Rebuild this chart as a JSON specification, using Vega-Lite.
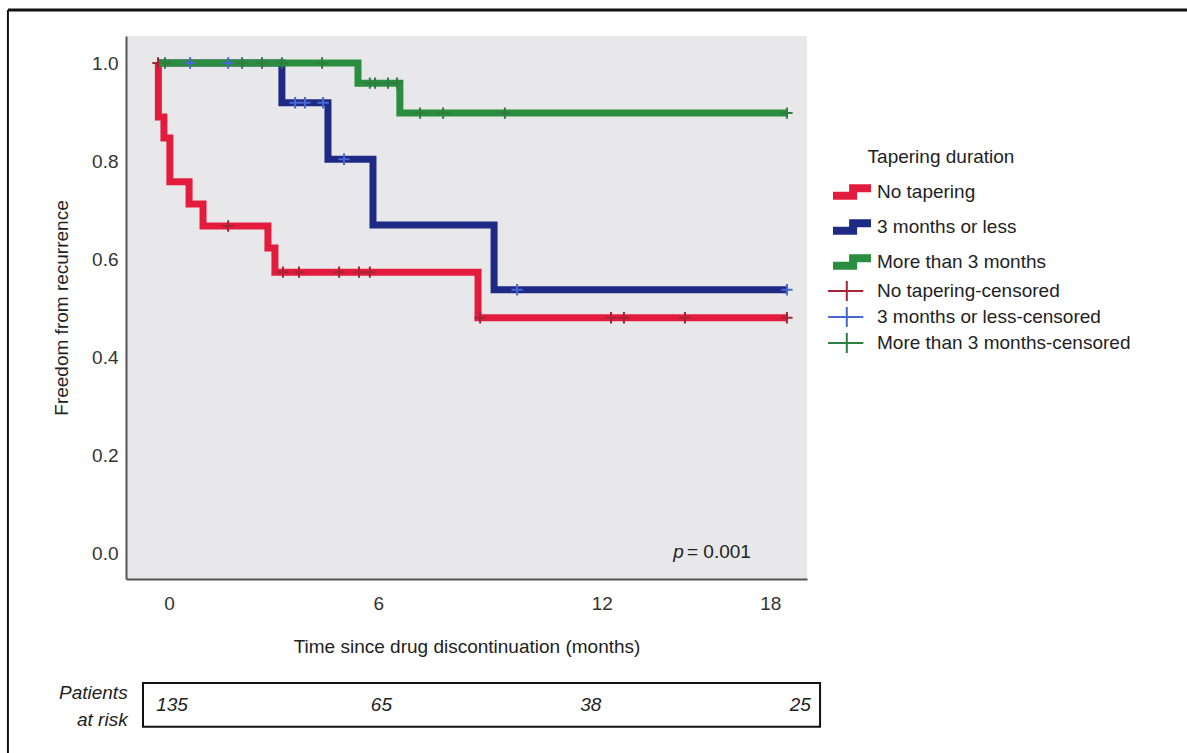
{
  "$schema": "https://vega.github.io/schema/vega-lite/v6.json",
  "width": 681,
  "height": 543,
  "autosize": {"type": "none"},
  "padding": {"left": 126, "top": 36, "right": 380, "bottom": 174},
  "background": "white",
  "config": {
    "font": "Liberation Sans",
    "view": {"fill": "#e8e8ea", "stroke": null},
    "axis": {
      "domainColor": "#555555",
      "domainWidth": 2,
      "ticks": false,
      "grid": false,
      "labelFont": "Liberation Sans",
      "labelFontSize": 19,
      "labelColor": "#333333",
      "titleFont": "Liberation Sans",
      "titleFontSize": 19,
      "titleFontWeight": "normal",
      "titleColor": "#222222"
    },
    "legend": {
      "labelFont": "Liberation Sans",
      "titleFont": "Liberation Sans",
      "labelFontSize": 19,
      "labelColor": "#222222",
      "labelLimit": 0,
      "titleFontSize": 19,
      "titleFontWeight": "normal",
      "titleColor": "#222222",
      "padding": 0,
      "rowPadding": 0,
      "labelOffset": 18,
      "symbolSize": 484,
      "symbolOpacity": 1
    }
  },
  "resolve": {"scale": {"color": "independent"}},
  "datasets": {
    "curves": [
      {"group": "3 months or less", "t": 0, "s": 1.0},
      {"group": "3 months or less", "t": 3.55, "s": 0.919},
      {"group": "3 months or less", "t": 4.87, "s": 0.804},
      {"group": "3 months or less", "t": 6.16, "s": 0.670},
      {"group": "3 months or less", "t": 9.63, "s": 0.538},
      {"group": "3 months or less", "t": 18.05, "s": 0.538},
      {"group": "No tapering", "t": 0, "s": 1.0},
      {"group": "No tapering", "t": 0.01, "s": 0.89},
      {"group": "No tapering", "t": 0.17, "s": 0.847},
      {"group": "No tapering", "t": 0.34, "s": 0.758},
      {"group": "No tapering", "t": 0.89, "s": 0.713},
      {"group": "No tapering", "t": 1.29, "s": 0.668},
      {"group": "No tapering", "t": 3.15, "s": 0.623},
      {"group": "No tapering", "t": 3.35, "s": 0.574},
      {"group": "No tapering", "t": 9.17, "s": 0.481},
      {"group": "No tapering", "t": 18.05, "s": 0.481},
      {"group": "More than 3 months", "t": 0, "s": 1.0},
      {"group": "More than 3 months", "t": 5.73, "s": 0.959},
      {"group": "More than 3 months", "t": 6.93, "s": 0.898},
      {"group": "More than 3 months", "t": 18.05, "s": 0.898}
    ],
    "censored": [
      {"cgroup": "No tapering-censored", "t": 0, "s": 1.0},
      {"cgroup": "No tapering-censored", "t": 2.01, "s": 0.668},
      {"cgroup": "No tapering-censored", "t": 3.58, "s": 0.574},
      {"cgroup": "No tapering-censored", "t": 4.04, "s": 0.574},
      {"cgroup": "No tapering-censored", "t": 5.19, "s": 0.574},
      {"cgroup": "No tapering-censored", "t": 5.76, "s": 0.574},
      {"cgroup": "No tapering-censored", "t": 6.07, "s": 0.574},
      {"cgroup": "No tapering-censored", "t": 9.23, "s": 0.481},
      {"cgroup": "No tapering-censored", "t": 12.98, "s": 0.481},
      {"cgroup": "No tapering-censored", "t": 13.35, "s": 0.481},
      {"cgroup": "No tapering-censored", "t": 15.10, "s": 0.481},
      {"cgroup": "No tapering-censored", "t": 18.02, "s": 0.481},
      {"cgroup": "3 months or less-censored", "t": 0.92, "s": 1.0},
      {"cgroup": "3 months or less-censored", "t": 2.01, "s": 1.0},
      {"cgroup": "3 months or less-censored", "t": 3.93, "s": 0.919},
      {"cgroup": "3 months or less-censored", "t": 4.21, "s": 0.919},
      {"cgroup": "3 months or less-censored", "t": 4.73, "s": 0.919},
      {"cgroup": "3 months or less-censored", "t": 5.33, "s": 0.804},
      {"cgroup": "3 months or less-censored", "t": 10.29, "s": 0.538},
      {"cgroup": "3 months or less-censored", "t": 18.02, "s": 0.538},
      {"cgroup": "More than 3 months-censored", "t": 0.2, "s": 1.0},
      {"cgroup": "More than 3 months-censored", "t": 2.41, "s": 1.0},
      {"cgroup": "More than 3 months-censored", "t": 2.98, "s": 1.0},
      {"cgroup": "More than 3 months-censored", "t": 3.55, "s": 1.0},
      {"cgroup": "More than 3 months-censored", "t": 4.70, "s": 1.0},
      {"cgroup": "More than 3 months-censored", "t": 6.07, "s": 0.959},
      {"cgroup": "More than 3 months-censored", "t": 6.22, "s": 0.959},
      {"cgroup": "More than 3 months-censored", "t": 6.59, "s": 0.959},
      {"cgroup": "More than 3 months-censored", "t": 6.85, "s": 0.959},
      {"cgroup": "More than 3 months-censored", "t": 7.51, "s": 0.898},
      {"cgroup": "More than 3 months-censored", "t": 8.17, "s": 0.898},
      {"cgroup": "More than 3 months-censored", "t": 9.94, "s": 0.898},
      {"cgroup": "More than 3 months-censored", "t": 18.02, "s": 0.898}
    ],
    "risk": [
      {"t": 0, "n": "135"},
      {"t": 6, "n": "65"},
      {"t": 12, "n": "38"},
      {"t": 18, "n": "25"}
    ]
  },
  "layer": [
    {
      "data": {"name": "curves"},
      "mark": {"type": "line", "interpolate": "step-after", "strokeWidth": 7, "strokeJoin": "miter"},
      "encoding": {
        "x": {
          "field": "t", "type": "quantitative",
          "title": "Time since drug discontinuation (months)",
          "scale": {"domain": [-0.917, 18.596], "nice": false, "zero": false},
          "axis": {
            "values": [0, 6, 12, 18],
            "labelPadding": 15,
            "titlePadding": 24,
            "labelOffset": {"condition": [{"test": "datum.value == 12", "value": 25}, {"test": "datum.value == 18", "value": -16}], "value": 11}
          }
        },
        "y": {
          "field": "s", "type": "quantitative",
          "title": "Freedom from recurrence",
          "scale": {"domain": [-0.051, 1.055], "nice": false, "zero": false},
          "axis": {"values": [0, 0.2, 0.4, 0.6, 0.8, 1.0], "format": ".1f", "labelPadding": 8, "titlePadding": 20}
        },
        "color": {
          "field": "group", "type": "nominal",
          "scale": {
            "domain": ["No tapering", "3 months or less", "More than 3 months"],
            "range": ["#e31c3d", "#1f2a85", "#2a8d3f"]
          },
          "legend": {
            "title": "Tapering duration",
            "titleAnchor": "middle",
            "orient": "none",
            "legendX": 711,
            "legendY": 112,
            "titlePadding": 10,
            "rowPadding": -18,
            "labelOffset": 10,
            "symbolType": "M-1.73,0.35L0.1,0.35L0.1,-0.35L1.73,-0.35",
            "symbolStrokeWidth": 8,
            "symbolFillColor": "transparent"
          }
        }
      }
    },
    {
      "data": {"name": "censored"},
      "mark": {"type": "point", "shape": "M-1,0L1,0M0,-1L0,1", "size": 130, "filled": false, "strokeWidth": 2, "opacity": 1},
      "encoding": {
        "x": {"field": "t", "type": "quantitative"},
        "y": {"field": "s", "type": "quantitative"},
        "color": {
          "field": "cgroup", "type": "nominal",
          "scale": {
            "domain": ["No tapering-censored", "3 months or less-censored", "More than 3 months-censored"],
            "range": ["#a52536", "#4668d0", "#2f7d40"]
          },
          "legend": {
            "title": null,
            "orient": "none",
            "legendX": 711,
            "legendY": 243,
            "rowPadding": -12,
            "labelOffset": 16,
            "symbolType": "M-1.9,0L1.3,0M-0.2,-0.9L-0.2,0.9",
            "symbolStrokeWidth": 2
          }
        }
      }
    },
    {
      "data": {"values": [{}]},
      "mark": {"type": "text", "text": "p", "fontStyle": "italic", "fontSize": 19, "align": "right", "baseline": "middle", "color": "#222222"},
      "encoding": {
        "x": {"datum": 15.07, "type": "quantitative"},
        "y": {"datum": 0.004, "type": "quantitative"}
      }
    },
    {
      "data": {"values": [{}]},
      "mark": {"type": "text", "text": "= 0.001", "fontSize": 19, "align": "left", "baseline": "middle", "color": "#222222", "dx": 3},
      "encoding": {
        "x": {"datum": 15.07, "type": "quantitative"},
        "y": {"datum": 0.004, "type": "quantitative"}
      }
    },
    {
      "data": {"values": [{}]},
      "mark": {"type": "rule", "color": "#111111", "strokeWidth": 3, "clip": false},
      "encoding": {
        "x": {"datum": -4.3, "type": "quantitative"},
        "x2": {"datum": 29.6},
        "y": {"datum": 1.108, "type": "quantitative"}
      }
    },
    {
      "data": {"values": [{}]},
      "mark": {"type": "rule", "color": "#111111", "strokeWidth": 2, "clip": false},
      "encoding": {
        "x": {"datum": -4.3, "type": "quantitative"},
        "y": {"datum": 1.108, "type": "quantitative"},
        "y2": {"datum": -0.41}
      }
    },
    {
      "data": {"values": [{}]},
      "mark": {"type": "rect", "fill": "transparent", "stroke": "#111111", "strokeWidth": 2, "clip": false},
      "encoding": {
        "x": {"datum": -0.43, "type": "quantitative"},
        "x2": {"datum": 18.97},
        "y": {"datum": -0.263, "type": "quantitative"},
        "y2": {"datum": -0.352}
      }
    },
    {
      "data": {"name": "risk"},
      "mark": {"type": "text", "fontStyle": "italic", "fontSize": 19, "align": "center", "baseline": "middle", "color": "#222222", "dx": 14, "clip": false},
      "encoding": {
        "x": {"field": "t", "type": "quantitative"},
        "y": {"datum": -0.308, "type": "quantitative"},
        "text": {"field": "n"}
      }
    },
    {
      "data": {"values": [{}]},
      "mark": {"type": "text", "text": ["Patients", "at risk"], "fontStyle": "italic", "fontSize": 19, "align": "right", "baseline": "middle", "lineHeight": 27, "color": "#222222", "clip": false},
      "encoding": {
        "x": {"datum": -0.87, "type": "quantitative"},
        "y": {"datum": -0.283, "type": "quantitative"}
      }
    }
  ]
}
